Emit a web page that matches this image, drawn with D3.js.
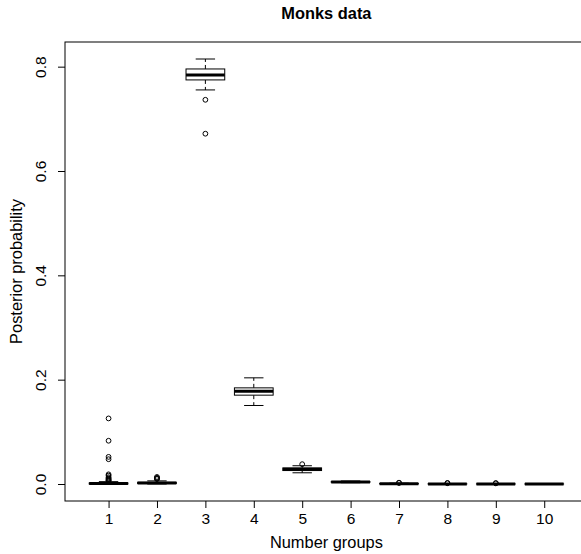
<!DOCTYPE html>
<html>
<head>
<meta charset="utf-8">
<script src="https://cdn.jsdelivr.net/npm/d3@7"></script>
<style>
  html, body { margin: 0; padding: 0; background: #fff; }
  svg { display: block; font-family: "Liberation Sans", Arial, Helvetica, sans-serif; }
</style>
</head>
<body>
<svg id="chart" width="581" height="554"></svg>
<script>
// Posterior probability of the number of groups (Monks data)
const groups = [1, 2, 3, 4, 5, 6, 7, 8, 9, 10];
// five-number summaries per group: lower whisker, Q1, median, Q3, upper whisker
const whiskerLow  = [0.0000, 0.0000, 0.7554, 0.1505, 0.0215, 0.0025, 0.0000, 0.0000, 0.0000, 0.0000];
const q1          = [0.0000, 0.0010, 0.7746, 0.1703, 0.0258, 0.0034, 0.0002, 0.0000, 0.0000, 0.0000];
const medians     = [0.0008, 0.0020, 0.7842, 0.1780, 0.0282, 0.0040, 0.0005, 0.0002, 0.0001, 0.0000];
const q3          = [0.0020, 0.0032, 0.7956, 0.1843, 0.0308, 0.0046, 0.0009, 0.0004, 0.0002, 0.0001];
const whiskerHigh = [0.0045, 0.0060, 0.8147, 0.2035, 0.0350, 0.0058, 0.0015, 0.0008, 0.0005, 0.0002];
// values beyond the whiskers
const outliers = [
  [0.1257, 0.0829, 0.0520, 0.0475, 0.0185, 0.0160, 0.0130, 0.0110, 0.0095, 0.0080, 0.0068, 0.0058],
  [0.0135, 0.0118, 0.0105, 0.0095],
  [0.7365, 0.6715],
  [],
  [0.0380],
  [],
  [0.0020, 0.0025],
  [0.0015, 0.0020],
  [0.0012, 0.0018],
  []
];
const yTicks = [0.0, 0.2, 0.4, 0.6, 0.8];
const titleText = "Monks data";
const xLabel = "Number groups";
const yLabel = "Posterior probability";

const svg = d3.select("#chart");
const plot = { left: 65, right: 587.8, top: 42, bottom: 501 };

// 4% padding around the data range
const yMax = d3.max(whiskerHigh), yMin = 0;
const pad = (yMax - yMin) * 0.04;
const x = d3.scaleLinear().domain([0.1, 10.9]).range([plot.left, plot.right]);
const y = d3.scaleLinear().domain([yMin - pad, yMax + pad]).range([plot.bottom, plot.top]);

const boxHalf = 0.4, stapleHalf = 0.2;

const g = svg.append("g");
groups.forEach((grp, i) => {
  const cx = x(grp);
  const bx0 = x(grp - boxHalf), bx1 = x(grp + boxHalf);
  const sx0 = x(grp - stapleHalf), sx1 = x(grp + stapleHalf);
  const gg = g.append("g");
  // whiskers (dashed)
  gg.append("line").attr("x1", cx).attr("x2", cx)
    .attr("y1", y(q3[i])).attr("y2", y(whiskerHigh[i]))
    .attr("stroke", "#000").attr("stroke-width", 1).attr("stroke-dasharray", "4,3");
  gg.append("line").attr("x1", cx).attr("x2", cx)
    .attr("y1", y(q1[i])).attr("y2", y(whiskerLow[i]))
    .attr("stroke", "#000").attr("stroke-width", 1).attr("stroke-dasharray", "4,3");
  // staples
  [whiskerLow[i], whiskerHigh[i]].forEach(v => {
    gg.append("line").attr("x1", sx0).attr("x2", sx1)
      .attr("y1", y(v)).attr("y2", y(v))
      .attr("stroke", "#000").attr("stroke-width", 1);
  });
  // box
  gg.append("rect")
    .attr("x", bx0).attr("width", bx1 - bx0)
    .attr("y", y(q3[i])).attr("height", Math.max(0, y(q1[i]) - y(q3[i])))
    .attr("fill", "#fff").attr("stroke", "#000").attr("stroke-width", 1);
  // median
  gg.append("line").attr("x1", bx0).attr("x2", bx1)
    .attr("y1", y(medians[i])).attr("y2", y(medians[i]))
    .attr("stroke", "#000").attr("stroke-width", 3);
  // outliers
  gg.selectAll("circle").data(outliers[i]).join("circle")
    .attr("cx", cx).attr("cy", d => y(d)).attr("r", 2.4)
    .attr("fill", "none").attr("stroke", "#000").attr("stroke-width", 1);
});

// frame
svg.append("rect")
  .attr("x", plot.left).attr("y", plot.top)
  .attr("width", plot.right - plot.left).attr("height", plot.bottom - plot.top)
  .attr("fill", "none").attr("stroke", "#000").attr("stroke-width", 1);

// x axis
const xAxis = svg.append("g")
  .attr("transform", `translate(0,${plot.bottom})`)
  .call(d3.axisBottom(x).tickValues(groups).tickFormat(d3.format("d")).tickSize(7).tickSizeOuter(0));
xAxis.select(".domain").remove();
xAxis.selectAll(".tick line").attr("stroke", "#000");
xAxis.selectAll(".tick text").attr("font-size", 15.5).attr("fill", "#000")
  .attr("dy", null).attr("y", 23);

// y axis (labels parallel to the axis)
const yAxis = svg.append("g")
  .attr("transform", `translate(${plot.left},0)`)
  .call(d3.axisLeft(y).tickValues(yTicks).tickFormat(d3.format(".1f")).tickSize(7).tickSizeOuter(0));
yAxis.select(".domain").remove();
yAxis.selectAll(".tick line").attr("stroke", "#000");
yAxis.selectAll(".tick text")
  .attr("font-size", 15.5).attr("fill", "#000")
  .attr("x", null).attr("dy", null)
  .attr("text-anchor", "middle")
  .attr("transform", "translate(-19,0) rotate(-90)");

// titles
svg.append("text")
  .attr("x", (plot.left + plot.right) / 2).attr("y", 19)
  .attr("text-anchor", "middle").attr("font-size", 16.4).attr("font-weight", "bold")
  .text(titleText);
svg.append("text")
  .attr("x", (plot.left + plot.right) / 2).attr("y", 548)
  .attr("text-anchor", "middle").attr("font-size", 16.4)
  .text(xLabel);
svg.append("text")
  .attr("transform", `translate(22,${(plot.top + plot.bottom) / 2}) rotate(-90)`)
  .attr("text-anchor", "middle").attr("font-size", 16.4)
  .text(yLabel);
</script>
</body>
</html>
